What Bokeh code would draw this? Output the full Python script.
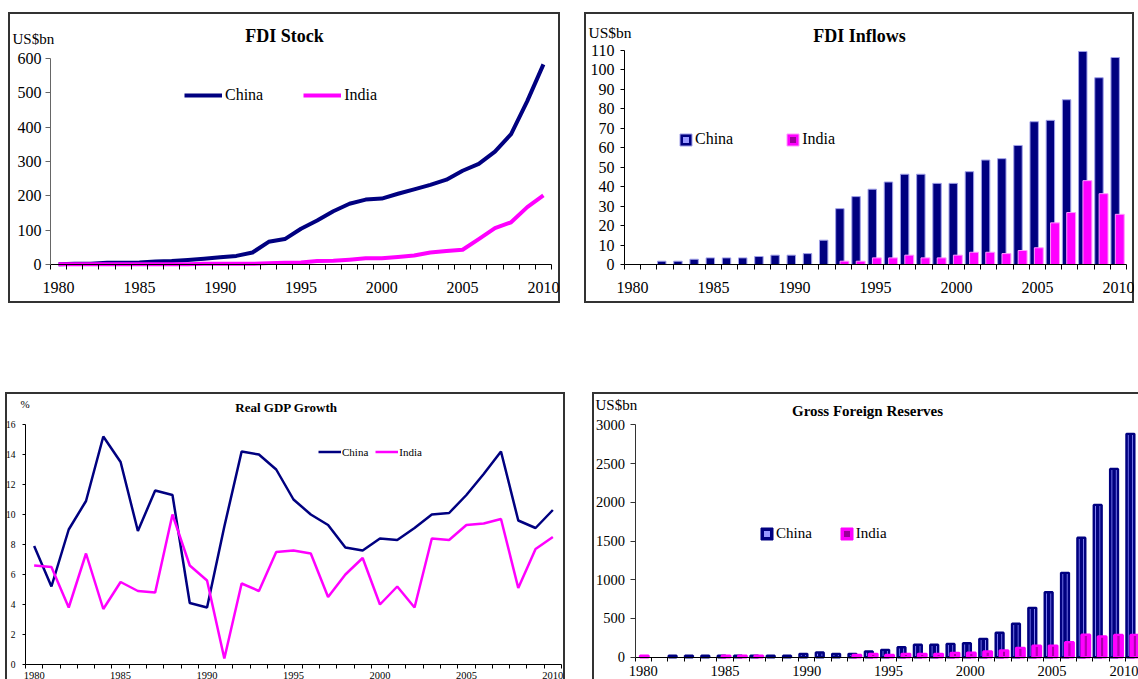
import numpy as np
from bokeh.plotting import figure
from bokeh.models import (FixedTicker, Legend, LegendItem, Label,
                          ColumnDataSource, Range1d, Spacer)
from bokeh.layouts import row, column
from bokeh.transform import dodge
from bokeh.embed import file_html
from bokeh.resources import INLINE

NAN = float("nan")
FONT = "Liberation Serif"
NAVY = "#000080"
MAGENTA = "#FF00FF"

# ---------------- data ----------------
years = list(range(1980, 2011))
label_years = list(range(1980, 2011, 5))

# FDI stock, US$bn
stock_china = [1, 2, 2, 5, 5, 6, 9, 10, 13, 17, 21, 25, 35, 66, 74, 104, 128, 155,
               177, 189, 192, 206, 219, 232, 247, 273, 293, 329, 380, 476, 583]
stock_india = [1, 1, 1, 1, 1, 1, 1, 1, 1, 2, 2, 2, 2, 4, 5, 6, 10, 11, 14, 18, 18,
               22, 26, 35, 39, 43, 74, 106, 123, 167, 201]

# FDI inflows, US$bn
inflow_china = [NAN, NAN, 1.7, 1.7, 2.7, 3.4, 3.4, 3.4, 4.1, 4.8, 4.8, 5.6, 12.5,
                28.7, 34.9, 38.7, 42.4, 46.4, 46.4, 41.7, 41.7, 47.7, 53.7, 54.4,
                61.2, 73.4, 74.1, 84.7, 109.5, 96.0, 106.4]
inflow_india = [NAN] * 13 + [1.7, 1.7, 3.4, 3.4, 4.8, 3.4, 3.4, 4.8, 6.3, 6.3, 5.6,
                             7.2, 8.6, 21.4, 26.7, 43.1, 36.4, 25.8]

# Real GDP growth, %
gdp_china = [7.9, 5.2, 9.0, 10.9, 15.2, 13.5, 8.9, 11.6, 11.3, 4.1, 3.8, 9.2, 14.2,
             14.0, 13.0, 11.0, 10.0, 9.3, 7.8, 7.6, 8.4, 8.3, 9.1, 10.0, 10.1, 11.3,
             12.7, 14.2, 9.6, 9.1, 10.3]
gdp_india = [6.6, 6.5, 3.8, 7.4, 3.7, 5.5, 4.9, 4.8, 10.0, 6.6, 5.6, 0.4, 5.4, 4.9,
             7.5, 7.6, 7.4, 4.5, 6.0, 7.1, 4.0, 5.2, 3.8, 8.4, 8.3, 9.3, 9.4, 9.7,
             5.1, 7.7, 8.5]

# Gross foreign reserves, US$bn
res_china = [NAN, NAN, 20, 20, 20, 20, 20, 20, 20, 20, 43, 60, 43, 43, 73, 95, 129,
             160, 160, 172, 181, 237, 315, 431, 637, 839, 1089, 1541, 1966, 2431, 2883]
res_india = [20, NAN, NAN, NAN, NAN, 20, 20, 20, NAN, NAN, NAN, NAN, NAN, 30, 43, 30,
             43, 43, 43, 56, 57, 74, 86, 121, 147, 150, 194, 289, 267, 288, 288]

stock_ticks = [0, 100, 200, 300, 400, 500, 600]
inflow_ticks = list(range(0, 111, 10))
gdp_ticks = [0, 2, 4, 6, 8, 10, 12, 14, 16]
res_ticks = [0, 500, 1000, 1500, 2000, 2500, 3000]

X0, X1 = years[0] - 0.5, years[-1] + 0.5
boundaries = [y - 0.5 for y in years] + [X1]

# ---------------- helpers ----------------
def make_panel(box, frame, ymax, shadow):
    """box: figure page box (x, y, w, h); frame: page pixels of (X0, ymax, X1, 0)."""
    ox, oy, w, h = box
    fx0, fy0, fx1, fy1 = frame
    ux = (X1 - X0) / (fx1 - fx0)
    uy = ymax / (fy1 - fy0)
    xs = X0 - (fx0 - ox) * ux
    ys = -(oy + h - fy1) * uy
    p = figure(width=w, height=h, x_range=Range1d(xs, xs + w * ux),
               y_range=Range1d(ys, ys + h * uy), toolbar_location=None,
               output_backend="svg", min_border=0, min_border_left=0,
               min_border_right=0, min_border_top=0, min_border_bottom=0)
    p.xgrid.visible = False
    p.ygrid.visible = False
    p.outline_line_color = None
    p.border_fill_alpha = 0
    p.background_fill_alpha = 0
    p.styles = {"box-shadow": shadow}
    p._map = (ox, oy, xs, ys + h * uy, ux, uy, h)
    return p


def to_data(p, px, py):
    ox, oy, xs, ye, ux, uy, h = p._map
    return xs + (px - ox) * ux, ye - (py - oy) * uy


def legend_loc(p, px_left, py_bottom):
    ox, oy, xs, ye, ux, uy, h = p._map
    return (px_left - ox, oy + h - py_bottom)


def add_text(p, px, py, text, size, bold=False, align="left"):
    x, y = to_data(p, px, py)
    p.add_layout(Label(x=x, y=y, text=text, text_font=FONT, text_font_size=size,
                       text_font_style="bold" if bold else "normal",
                       text_align=align, text_baseline="middle", text_color="black"))


def style_axes(p, ymax, xsize, ysize, yticks, ytick_out, ystand, xstand, xtick_out=5,
               ycolor="black"):
    xa = p.xaxis[0]
    xa.fixed_location = 0
    xa.bounds = (X0, X1)
    xa.ticker = FixedTicker(ticks=label_years, minor_ticks=boundaries)
    xa.major_tick_in = 0
    xa.major_tick_out = 0
    xa.minor_tick_in = 0
    xa.minor_tick_out = xtick_out
    xa.minor_tick_line_color = "black"
    xa.axis_line_color = "black"
    xa.major_label_text_font = FONT
    xa.major_label_text_font_size = xsize
    xa.major_label_text_color = "black"
    xa.major_label_standoff = xstand
    ya = p.yaxis[0]
    ya.fixed_location = X0
    ya.bounds = (0, ymax)
    ya.ticker = FixedTicker(ticks=yticks)
    ya.major_tick_in = 0
    ya.major_tick_out = ytick_out
    ya.minor_tick_line_color = None
    ya.axis_line_color = ycolor
    ya.major_tick_line_color = ycolor
    ya.major_label_text_font = FONT
    ya.major_label_text_font_size = ysize
    ya.major_label_text_color = "black"
    ya.major_label_standoff = ystand


def make_legend(items, loc, gw, gh, standoff, spacing, size):
    return Legend(items=items, location=loc, orientation="horizontal",
                  glyph_width=gw, glyph_height=gh, label_height=gh, label_width=10,
                  label_standoff=standoff, spacing=spacing, padding=0, margin=0,
                  border_line_color=None, background_fill_alpha=0,
                  label_text_font=FONT, label_text_font_size=size,
                  label_text_color="black")


FULL = "inset 0 0 0 2px #333"

# ---------------- panel 1: FDI stock ----------------
p1 = make_panel((8, 12, 552, 291), (50, 58, 551, 264), 600, FULL)
style_axes(p1, 600, "16px", "16px", stock_ticks, 5, 4, 12, ycolor="#666666")
l1c = p1.line(years, stock_china, line_color=NAVY, line_width=4, line_join="round")
l1i = p1.line(years, stock_india, line_color=MAGENTA, line_width=4, line_join="round")
p1.add_layout(make_legend([LegendItem(label="China", renderers=[l1c]),
                           LegendItem(label="India", renderers=[l1i])],
                          legend_loc(p1, 184, 104), 38, 18, 3, 40, "16px"))
add_text(p1, 284, 35, "FDI Stock", "18px", bold=True, align="center")
add_text(p1, 12, 38, "US$bn", "15px")

# ---------------- panel 2: FDI inflows ----------------
p2 = make_panel((584, 12, 550, 291), (624, 50, 1126, 264), 110, FULL)
style_axes(p2, 110, "16px", "16px", inflow_ticks, 4, 6, 12)
src2 = ColumnDataSource(dict(year=years, china=np.array(inflow_china),
                             india=np.array(inflow_india)))
b2c = p2.vbar(x=dodge("year", -0.2, range=p2.x_range), top="china", width=0.52,
              source=src2, fill_color=NAVY, line_color="#a0a0e8", line_width=1)
b2i = p2.vbar(x=dodge("year", 0.085, range=p2.x_range), top="india", width=0.55,
              source=src2, fill_color=MAGENTA, line_color="#ff99ff", line_width=1)
m2c = p2.scatter(x=[NAN], y=[NAN], marker="square", size=5, fill_color="#9999ff", line_color=None)
m2i = p2.scatter(x=[NAN], y=[NAN], marker="square", size=5, fill_color="#990099", line_color=None)
p2.add_layout(make_legend([LegendItem(label="China", renderers=[b2c, m2c]),
                           LegendItem(label="India", renderers=[b2i, m2i])],
                          legend_loc(p2, 678, 148), 15, 15, 2, 52, "16px"))
add_text(p2, 859, 35, "FDI Inflows", "18px", bold=True, align="center")
add_text(p2, 588, 32, "US$bn", "15.5px")

# ---------------- panel 3: real GDP growth ----------------
p3 = make_panel((5, 392, 560, 287), (25, 424, 561, 664), 16,
                "inset 2px 2px 0 0 #333, inset -2px 0 0 0 #333")
style_axes(p3, 16, "10.5px", "9.5px", gdp_ticks, 3, 7, 3, xtick_out=4)
l3c = p3.line(years, gdp_china, line_color=NAVY, line_width=2.5)
l3i = p3.line(years, gdp_india, line_color=MAGENTA, line_width=2.5)
p3.add_layout(make_legend([LegendItem(label="China", renderers=[l3c]),
                           LegendItem(label="India", renderers=[l3i])],
                          legend_loc(p3, 318, 458), 23, 13, 1, 7, "11px"))
add_text(p3, 286, 407, "Real GDP Growth", "13px", bold=True, align="center")
add_text(p3, 20, 403, "%", "11px")

# ---------------- panel 4: gross foreign reserves ----------------
p4 = make_panel((592, 392, 546, 287), (634.5, 424.3, 634.5 + 31 * 16.35, 656.7), 3000,
                "inset 2px 2px 0 0 #333")
style_axes(p4, 3000, "14.5px", "14.5px", res_ticks, 5, 5, 5, xtick_out=4, ycolor="#333333")
src4 = ColumnDataSource(dict(year=years, china=np.array(res_china, dtype=float),
                             india=np.array(res_india, dtype=float)))
xc = dodge("year", -0.2, range=p4.x_range)
xi = dodge("year", 0.07, range=p4.x_range)
b4c = p4.vbar(x=xc, top="china", width=0.48, source=src4, fill_color=NAVY,
              line_color=NAVY, line_width=1)
p4.vbar(x=xc, top="china", width=0.28, source=src4, fill_color=None,
        line_color="#9090ff", line_width=1)
p4.vbar(x=xc, top="china", width=0.48, source=src4, fill_color=None,
        line_color=NAVY, line_width=2.4)
b4i = p4.vbar(x=xi, top="india", width=0.52, source=src4, fill_color=MAGENTA,
              line_color=MAGENTA, line_width=1)
p4.vbar(x=xi, top="india", width=0.06, source=src4, fill_color=None,
        line_color="#a000a0", line_width=1)
p4.vbar(x=xi, top="india", width=0.52, source=src4, fill_color=None,
        line_color=MAGENTA, line_width=2.4)
m4c = p4.scatter(x=[NAN], y=[NAN], marker="square", size=5, fill_color="#9999ff", line_color=None)
m4i = p4.scatter(x=[NAN], y=[NAN], marker="square", size=5, fill_color="#990099", line_color=None)
p4.add_layout(make_legend([LegendItem(label="China", renderers=[b4c, m4c]),
                           LegendItem(label="India", renderers=[b4i, m4i])],
                          legend_loc(p4, 759, 542), 15, 15, 2, 27, "15px"))
add_text(p4, 867, 410, "Gross Foreign Reserves", "15px", bold=True, align="center")
add_text(p4, 595, 404, "US$bn", "15px")

# ---------------- layout ----------------
top = row(Spacer(width=8, height=291), p1, Spacer(width=24, height=291), p2)
bottom = row(Spacer(width=5, height=287), p3, Spacer(width=27, height=287), p4)
layout = column(Spacer(width=1134, height=12), top, Spacer(width=1134, height=89), bottom)

with open("out.html", "w") as f:
    f.write(file_html(layout, INLINE))
